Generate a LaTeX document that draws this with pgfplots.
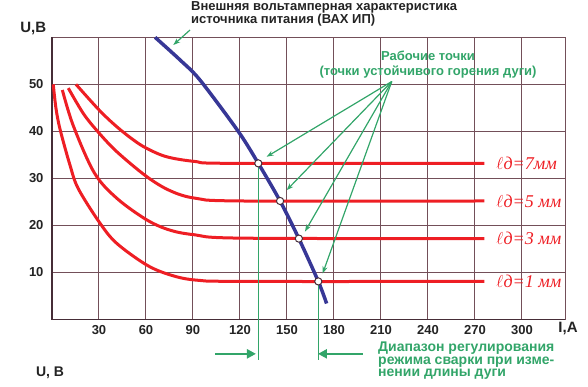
\documentclass[border=0pt]{standalone}
\usepackage{fontspec}
\setmainfont{Liberation Sans}
\newfontfamily\serifit{Liberation Serif}
\usepackage{pgfplots}
\pgfplotsset{compat=1.18}
\usetikzlibrary{arrows.meta}
\definecolor{mygrid}{rgb}{0.45,0.31,0.35}
\definecolor{axc}{RGB}{70,45,55}
\definecolor{redc}{RGB}{238,30,36}
\definecolor{bluec}{RGB}{55,55,150}
\definecolor{greenc}{RGB}{50,165,105}
\definecolor{txtc}{RGB}{35,35,35}
\begin{document}
\begin{tikzpicture}[x=1pt,y=1pt]
\useasboundingbox (-52,-66.5) rectangle (536,319.5);
\begin{axis}[at={(0,0)}, anchor=south west,
  scale only axis, width=513pt, height=282.2pt,
  xmin=0, xmax=327.5, ymin=0, ymax=60,
  xtick={30,60,...,300}, ytick={10,20,...,50},
  grid=major,
  major grid style={mygrid, line width=1pt, solid},
  major tick length=0pt,
  axis line style={mygrid, line width=1pt},
  tick label style={font=\bfseries\fontsize{13}{14}\selectfont, text=txtc},
  xticklabel style={yshift=-2.5pt},
  yticklabel style={xshift=-5pt},
  /pgf/number format/assume math mode=true,
  clip=false]
\draw[axc, line width=1.8pt] (rel axis cs:0,1) -- (rel axis cs:0,0) -- (rel axis cs:1,0);
% arc characteristics
\addplot[redc, line width=3pt, smooth, tension=0.55] coordinates {(0.8,50)(2.5,45)(5.1,40.5)(11.5,32.8)(16.8,27.8)(30.6,20.5)(41.3,16.2)(60.4,11.6)(75.3,9.5)(91.3,8.4)(121,8.1)(276,8.1)};
\addplot[redc, line width=3pt, smooth, tension=0.55] coordinates {(6.6,48.8)(13.6,41.2)(27,31.2)(41.3,25.8)(60.4,21.2)(75.3,19)(91.3,18)(121,17.3)(276,17.2)};
\addplot[redc, line width=3pt, smooth, tension=0.55] coordinates {(10.4,49.2)(20,43.8)(29.1,40)(41.3,35.7)(60.4,30.4)(75.3,27.4)(91.3,25.8)(121,25.2)(276,25.2)};
\addplot[redc, line width=3pt, smooth, tension=0.55] coordinates {(15.3,50)(30.2,44.5)(41.3,41)(51.9,38.2)(60.4,36.4)(73.2,34.6)(91.3,33.6)(115,33.2)(276,33.2)};
% power source characteristic
\addplot[bluec, line width=3.5pt, smooth, tension=0.5] coordinates {(65.8,60)(81.7,55.2)(94.5,50.9)(118.9,40)(131.7,33.2)(145.6,25.2)(157.6,17.2)(170,8.1)(175.3,3.4)};
% green guide lines
\draw[greenc, line width=0.8pt] (axis cs:131.7,33.2) -- (axis cs:131.7,-8.6);
\draw[greenc, line width=0.8pt] (axis cs:170,8.1) -- (axis cs:170,-8.6);
\draw[greenc, line width=1.2pt, -{Stealth[length=7pt,width=5pt]}] (axis cs:216.9,50.6) -- (axis cs:137,34.6);
\draw[greenc, line width=1.2pt, -{Stealth[length=7pt,width=5pt]}] (axis cs:216.9,50.6) -- (axis cs:149.8,27.5);
\draw[greenc, line width=1.2pt, -{Stealth[length=7pt,width=5pt]}] (axis cs:216.9,50.6) -- (axis cs:161.5,18.7);
\draw[greenc, line width=1.2pt, -{Stealth[length=7pt,width=5pt]}] (axis cs:216.9,50.6) -- (axis cs:172.8,9.8);
\draw[greenc, line width=2.5pt, -{Triangle[length=9pt,width=9pt]}] (axis cs:104.2,-7.3) -- (axis cs:130.2,-7.3);
\draw[greenc, line width=2.5pt, -{Triangle[length=9pt,width=9pt]}] (axis cs:198.5,-7.3) -- (axis cs:169.8,-7.3);
% working points
\addplot[only marks, mark=*, mark size=3.6pt, mark options={fill=white, draw=axc, line width=1pt}] coordinates {(131.7,33.2)(145.6,25.2)(157.6,17.2)(170,8.1)};
% labels of the arc lengths
\node[anchor=west, text=redc, font=\fontsize{18}{18}\selectfont] at (axis cs:281.5,33.2) {$\ell${\serifit\itshape д=7мм}};
\node[anchor=west, text=redc, font=\fontsize{18}{18}\selectfont] at (axis cs:281.5,25.2) {$\ell${\serifit\itshape д=5 мм}};
\node[anchor=west, text=redc, font=\fontsize{18}{18}\selectfont] at (axis cs:281.5,17.2) {$\ell${\serifit\itshape д=3 мм}};
\node[anchor=west, text=redc, font=\fontsize{18}{18}\selectfont] at (axis cs:281.5,8.1) {$\ell${\serifit\itshape д=1 мм}};
\end{axis}
\draw[greenc, line width=1.2pt, -{Stealth[length=7pt,width=5pt]}] (138,289.5) -- (121.3,274.5);
\node[font=\bfseries\fontsize{15}{15}\selectfont, text=txtc] at (-18.7,290.5) {U,B};
\node[font=\bfseries\fontsize{15}{15}\selectfont, text=txtc] at (516,-8.5) {I,A};
\node[font=\bfseries\fontsize{14}{14}\selectfont, text=txtc] at (-2,-53) {U, B};
\node[anchor=north west, align=left, inner sep=0pt, font=\bfseries\fontsize{13}{13}\selectfont, text=txtc] at (139,318) {Внешняя вольтамперная характеристика\\источника питания (ВАХ ИП)};
\node[align=center, inner sep=0pt, font=\bfseries\fontsize{13}{15}\selectfont, text=greenc] at (376,255) {Рабочие точки\\(точки устойчивого горения дуги)};
\node[anchor=north west, align=left, inner sep=0pt, font=\bfseries\fontsize{14}{12.8}\selectfont, text=greenc] at (326,-22) {Диапазон регулирования\\режима сварки при изме-\\нении длины дуги};
\end{tikzpicture}
\end{document}
